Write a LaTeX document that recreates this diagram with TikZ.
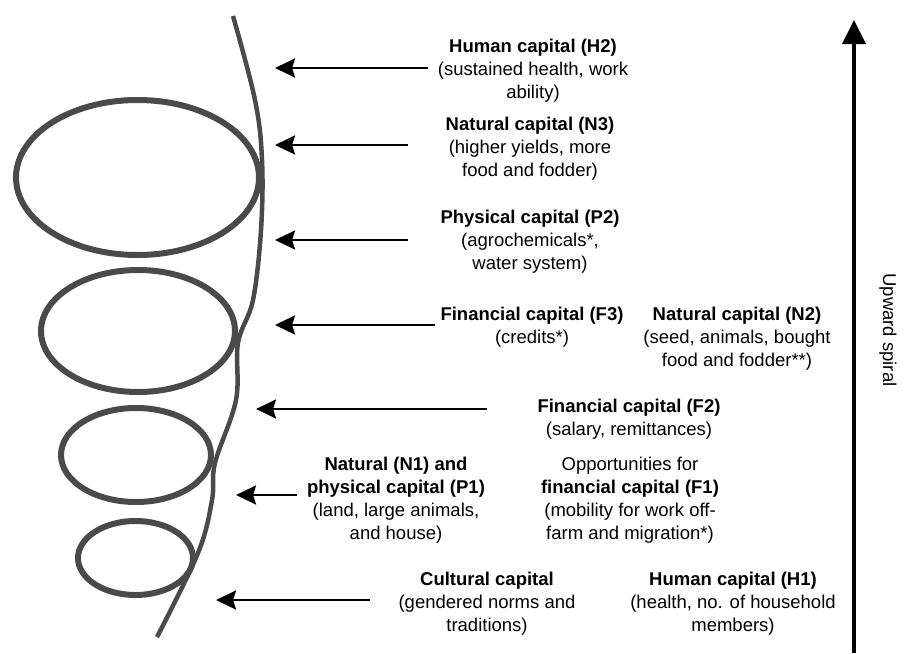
\documentclass[tikz,border=0pt]{standalone}
\usepackage{fontspec}
\setmainfont{Liberation Sans}
\usetikzlibrary{arrows.meta}
\definecolor{coilgray}{HTML}{4A4A4A}
\begin{document}
\begin{tikzpicture}[x=1pt,y=-1pt,
  lbl/.style={align=center, inner sep=0pt, font=\fontsize{18.5}{23}\selectfont},
  coil/.style={draw=coilgray, line width=6pt},
  strand/.style={draw=coilgray, line width=4.5pt},
  feed/.style={line width=2.6pt, -{Stealth[length=20pt,width=19pt,inset=3pt]}},
  rise/.style={line width=4pt, -{Triangle[length=24pt,width=23pt]}}]
\useasboundingbox (0,0) rectangle (912,653);

% loops of the spiral
\draw[coil] (137.5,177.5) ellipse [x radius=121.5, y radius=77.5];
\draw[coil] (138,331) ellipse [x radius=97, y radius=61];
\draw[coil] (136,455) ellipse [x radius=75, y radius=47];
\draw[coil] (135.5,558) ellipse [x radius=57.5, y radius=37];
% the strand running through the loops
\draw[strand] plot[smooth, tension=0.6] coordinates {(233,16) (255,100) (262,160) (261,230) (253,300) (238,343) (236,400) (215,463) (212,500) (198,553) (157,637)};

% capital labels
\node[lbl] (h2) at (533,71) {\textbf{Human capital (H2)}\\(sustained health, work\\ability)};
\node[lbl] (n3) at (530,149) {\textbf{Natural capital (N3)}\\(higher yields, more\\food and fodder)};
\node[lbl] (p2) at (530,242) {\textbf{Physical capital (P2)}\\(agrochemicals*,\\water system)};
\node[lbl] (f3) at (532,327) {\textbf{Financial capital (F3)}\\(credits*)};
\node[lbl] (n2) at (737,338.5) {\textbf{Natural capital (N2)}\\(seed, animals, bought\\food and fodder**)};
\node[lbl] (f2) at (629,419.5) {\textbf{Financial capital (F2)}\\(salary, remittances)};
\node[lbl] (n1p1) at (396,500.5) {\textbf{Natural (N1) and}\\\textbf{physical capital (P1)}\\(land, large animals,\\and house)};
\node[lbl] (f1) at (630,500.5) {Opportunities for\\\textbf{financial capital (F1)}\\(mobility for work off-\\farm and migration*)};
\node[lbl] (cult) at (487,604) {\textbf{Cultural capital}\\(gendered norms and\\traditions)};
\node[lbl] (h1) at (733,604) {\textbf{Human capital (H1)}\\(health, no. of household\\members)};
\node[lbl, rotate=-90] (up) at (888,330) {Upward spiral};

% arrows feeding the spiral
\coordinate (h2t) at (428,68);   \coordinate (h2s) at (275,68);
\coordinate (n3t) at (408,145);  \coordinate (n3s) at (275,145);
\coordinate (p2t) at (408,240);  \coordinate (p2s) at (275,240);
\coordinate (f3t) at (435,325);  \coordinate (f3s) at (275,325);
\coordinate (f2t) at (487,409);  \coordinate (f2s) at (256,409);
\coordinate (npt) at (297,495);  \coordinate (nps) at (236,495);
\coordinate (cut) at (370,600);  \coordinate (cus) at (216,600);
\draw[feed] (h2t) -- (h2s);
\draw[feed] (n3t) -- (n3s);
\draw[feed] (p2t) -- (p2s);
\draw[feed] (f3t) -- (f3s);
\draw[feed] (f2t) -- (f2s);
\draw[feed] (npt) -- (nps);
\draw[feed] (cut) -- (cus);

% upward arrow
\coordinate (upbot) at (854,653);
\coordinate (uptop) at (854,20);
\draw[rise] (upbot) -- (uptop);
\end{tikzpicture}
\end{document}
